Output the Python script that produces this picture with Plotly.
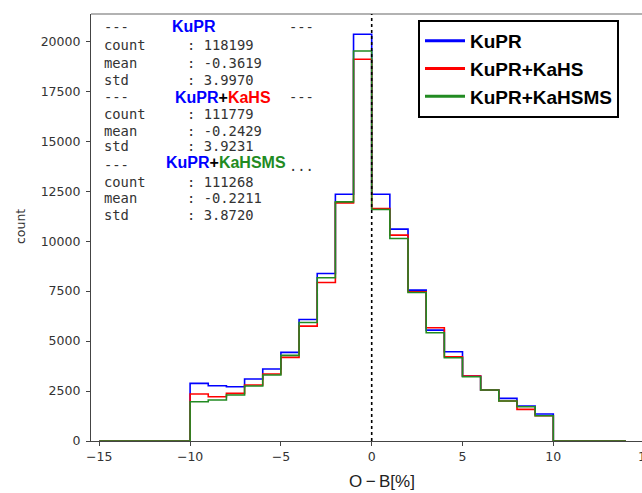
import plotly.graph_objects as go

# ---------------- data ----------------
bin_edges = list(range(-15, 15))  # -15 .. 14
counts_kupr = [0, 0, 0, 0, 0,
               2883, 2767, 2717, 3100, 3600, 4433, 6083, 8383, 12350, 20350,
               12350, 10600, 7550, 5550, 4467, 3250, 2550, 2133, 1750, 1350,
               0, 0, 0, 0]
counts_kahs = [0, 0, 0, 0, 0,
               2350, 2217, 2383, 2800, 3350, 4183, 5750, 7933, 11917, 19100,
               11633, 10300, 7467, 5667, 4217, 3250, 2550, 2000, 1583, 1267,
               0, 0, 0, 0]
counts_kahsms = [0, 0, 0, 0, 0,
                 1967, 2050, 2300, 2750, 3300, 4283, 5933, 8167, 11967, 19517,
                 11583, 10133, 7433, 5417, 4167, 3217, 2550, 2000, 1717, 1267,
                 0, 0, 0, 0]
series_names = ["KuPR", "KuPR+KaHS", "KuPR+KaHSMS"]
series_colors = ["#0000ff", "#ff0000", "#228b22"]
stat_count = ["118199", "111779", "111268"]
stat_mean = ["-0.3619", "-0.2429", "-0.2211"]
stat_std = ["3.9970", "3.9231", "3.8720"]
x_ticks = [-15, -10, -5, 0, 5, 10]
y_ticks = [0, 2500, 5000, 7500, 10000, 12500, 15000, 17500, 20000]

# ---------------- layout geometry ----------------
W, H = 642, 493
L, R, T, B = 91, 0, 14, 52
PW, PH = W - L - R, H - T - B


def px(x):
    return (x - L) / PW


def py(y):
    return (H - B - y) / PH


fig = go.Figure()
for name, col, cnt in zip(series_names, series_colors,
                          [counts_kupr, counts_kahs, counts_kahsms]):
    fig.add_trace(go.Scatter(
        x=bin_edges, y=cnt + [0], mode="lines", name=name,
        line=dict(color=col, width=1.6, shape="hv"),
        showlegend=False, hoverinfo="skip"))
    # legend-only entry (thicker sample line)
    fig.add_trace(go.Scatter(
        x=[None], y=[None], mode="lines", name=name,
        line=dict(color=col, width=3)))

tick_font = dict(family="DejaVu Sans", size=12.5, color="#333333")
fig.update_layout(
    width=W, height=H,
    margin=dict(l=L, r=R, t=T, b=B, pad=0),
    paper_bgcolor="white", plot_bgcolor="white",
    xaxis=dict(range=[-15.457, 14.884], tickvals=x_ticks,
               ticktext=["\u2212" + str(-v) if v < 0 else str(v) for v in x_ticks],
               showgrid=False, zeroline=False, showline=True,
               linecolor="#444444", linewidth=1.2,
               ticks="outside", ticklen=4, tickcolor="#444444",
               tickfont=tick_font),
    yaxis=dict(range=[0, 21367], tickvals=y_ticks,
               ticktext=[str(v) for v in y_ticks],
               showgrid=False, zeroline=False, showline=True,
               linecolor="#444444", linewidth=1.2,
               ticks="outside", ticklen=4, tickcolor="#444444",
               tickfont=tick_font, ticklabelstandoff=3),
    legend=dict(x=px(418), y=py(20), xanchor="left", yanchor="top",
                bgcolor="white", bordercolor="black", borderwidth=2,
                font=dict(family="Liberation Sans", size=19, color="black",
                          weight="bold"),
                itemwidth=40, tracegroupgap=0),
    showlegend=True,
)

# top frame line
fig.add_shape(type="line", xref="paper", yref="paper", x0=0, x1=1, y0=1, y1=1,
              line=dict(color="#666666", width=1.2))
# dotted vertical line at 0
fig.add_shape(type="line", xref="x", yref="paper", x0=0, x1=0, y0=0, y1=1,
              line=dict(color="black", width=1.6, dash="dot"))

# cut-off "15" tick label at the right edge
fig.add_annotation(xref="paper", yref="paper", x=px(646), y=py(456),
                   text="15", showarrow=False, xanchor="center",
                   yanchor="middle", font=tick_font)

# axis titles
fig.add_annotation(xref="paper", yref="paper", x=px(382), y=py(482),
                   text="O\u2009\u2212\u2009B[%]", showarrow=False,
                   xanchor="center", yanchor="middle",
                   font=dict(family="Liberation Sans", size=17, color="#222222"))
fig.add_annotation(xref="paper", yref="paper", x=px(20), y=py(227),
                   text="count", showarrow=False, textangle=-90,
                   xanchor="center", yanchor="middle",
                   font=dict(family="DejaVu Sans", size=12.5, color="#333333"))

# statistics text block
mono = dict(family="DejaVu Sans Mono", size=13.8, color="#333333")
bold = dict(family="Liberation Sans", size=16, weight="bold")
head_y = [27, 97, 165]
title_y = [26, 97, 162]
title_x = [170, 173, 164]
row_y = [[45, 63, 80], [114, 131, 146], [182, 198, 215]]


def colored_title(name):
    parts = name.split("+")
    txt = f'<span style="color:{series_colors[0]}">{parts[0]}</span>'
    if len(parts) > 1:
        idx = series_names.index(name)
        txt += ('<span style="color:black">+</span>'
                f'<span style="color:{series_colors[idx]}">{parts[1]}</span>')
    return txt


for i, name in enumerate(series_names):
    fig.add_annotation(xref="paper", yref="paper", x=px(101.5), y=py(head_y[i]),
                       text="---", showarrow=False, xanchor="left",
                       yanchor="middle", font=mono)
    fig.add_annotation(xref="paper", yref="paper", x=px(287),
                       y=py(head_y[i] if i < 2 else 166),
                       text="---" if i < 2 else "...", showarrow=False,
                       xanchor="left", yanchor="middle", font=mono)
    fig.add_annotation(xref="paper", yref="paper", x=px(title_x[i]),
                       y=py(title_y[i]), text=colored_title(name),
                       showarrow=False, xanchor="left", yanchor="middle",
                       font=bold)
    for lab, val, yy in zip(["count", "mean", "std"],
                            [stat_count[i], stat_mean[i], stat_std[i]],
                            row_y[i]):
        fig.add_annotation(xref="paper", yref="paper", x=px(101.5), y=py(yy),
                           text=f"{lab:<10}: {val}".replace(" ", "\u00a0"),
                           showarrow=False, xanchor="left", yanchor="middle",
                           font=mono)

fig.write_html("out.html")
